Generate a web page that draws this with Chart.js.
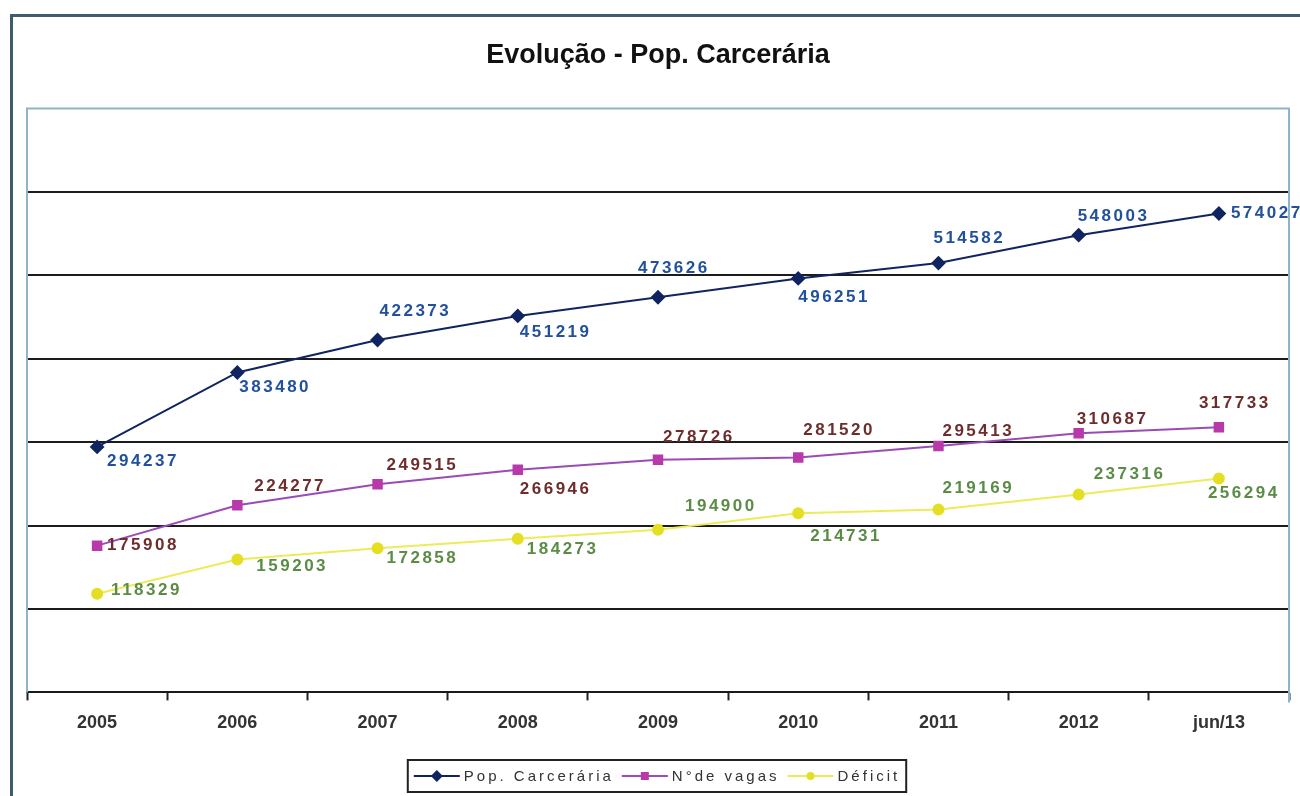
<!DOCTYPE html>
<html>
<head>
<meta charset="utf-8">
<script src="https://cdn.jsdelivr.net/npm/chart.js@4/dist/chart.umd.min.js"></script>
<style>
  html, body { margin: 0; padding: 0; background: #fff; }
</style>
</head>
<body>
<canvas id="chart" width="1300" height="796"></canvas>
<script>
// data
const years = ['2005', '2006', '2007', '2008', '2009', '2010', '2011', '2012', 'jun/13'];
const popCarceraria = [294237, 383480, 422373, 451219, 473626, 496251, 514582, 548003, 574027];
const numVagas = [175908, 224277, 249515, 266946, 278726, 281520, 295413, 310687, 317733];
const deficit = [118329, 159203, 172858, 184273, 194900, 214731, 219169, 237316, 256294];
const yMin = 0, yMax = 700000, yStep = 100000;

// where each value label sits relative to its point: [dx to left edge, dy to middle]
const labelPlacement = [
  [[10,14],[2,15],[2,-29],[2,16],[-20,-29],[0,19],[-5,-25],[-1,-19],[12,0]],
  [[10,0],[17,-19],[9,-19],[2,20],[5,-23],[5,-27],[4,-15],[-2,-14],[-20,-24]],
  [[14,-3],[19,7],[9,10],[9,11],[27,-23],[12,23],[4,-21],[15,-20],[-11,15]]
];
const labelColors = ['#21509e', '#6e2c2c', '#5b8c46'];

const valueLabels = {
  id: 'valueLabels',
  afterDatasetsDraw(chart) {
    const ctx = chart.ctx;
    ctx.save();
    ctx.font = 'bold 17px "Liberation Sans", Arial, sans-serif';
    ctx.letterSpacing = '2.5px';
    ctx.textBaseline = 'middle';
    ctx.textAlign = 'left';
    chart.data.datasets.forEach(function(ds, i) {
      const meta = chart.getDatasetMeta(i);
      meta.data.forEach(function(pt, j) {
        const off = labelPlacement[i][j];
        ctx.fillStyle = labelColors[i];
        ctx.fillText(String(ds.data[j]), pt.x + off[0], pt.y + off[1]);
      });
    });
    ctx.restore();
  }
};

const frame = {
  id: 'frame',
  beforeDraw(chart) {
    const ctx = chart.ctx;
    ctx.save();
    ctx.fillStyle = '#fff';
    ctx.fillRect(0, 0, chart.width, chart.height);
    // outer border of the chart object
    ctx.strokeStyle = '#3e5c6c';
    ctx.lineWidth = 3;
    ctx.strokeRect(11.5, 15.5, chart.width + 20, chart.height + 20);
    ctx.restore();
  },
  afterDraw(chart) {
    const ctx = chart.ctx;
    const a = chart.chartArea;
    ctx.save();
    ctx.strokeStyle = '#8fb3c9';
    ctx.lineWidth = 2;
    ctx.beginPath();
    ctx.moveTo(a.left, a.bottom);
    ctx.lineTo(a.left, a.top);
    ctx.lineTo(a.right, a.top);
    ctx.lineTo(a.right, a.bottom + 10);
    ctx.stroke();
    ctx.restore();
  }
};

// legend drawn by hand: line with marker, then spaced text, all in one box
const boxLegend = {
  id: 'boxLegend',
  afterDraw(chart) {
    const ctx = chart.ctx;
    ctx.save();
    ctx.font = '15px "Liberation Sans", Arial, sans-serif';
    ctx.letterSpacing = '3px';
    ctx.textBaseline = 'middle';
    const sample = 46, gap = 4, itemGap = 8;
    const items = chart.data.datasets.map(function(ds) {
      return { ds: ds, w: sample + gap + ctx.measureText(ds.label).width };
    });
    let total = items.reduce((s, it) => s + it.w, 0) + itemGap * (items.length - 1) + 12;
    let x = 657 - total / 2;
    const top = 760, h = 32, y = top + h / 2;
    ctx.strokeStyle = '#222';
    ctx.lineWidth = 2;
    ctx.strokeRect(x, top, total, h);
    x += 6;
    items.forEach(function(it) {
      const ds = it.ds;
      ctx.strokeStyle = ds.borderColor;
      ctx.lineWidth = 2;
      ctx.beginPath();
      ctx.moveTo(x, y);
      ctx.lineTo(x + sample, y);
      ctx.stroke();
      ctx.fillStyle = ds.pointBackgroundColor;
      ctx.beginPath();
      const cx = x + sample / 2, r = ds.pointRadius - 1;
      if (ds.pointStyle === 'rectRot') {
        ctx.moveTo(cx, y - r - 1); ctx.lineTo(cx + r + 1, y);
        ctx.lineTo(cx, y + r + 1); ctx.lineTo(cx - r - 1, y);
      } else if (ds.pointStyle === 'rect') {
        ctx.rect(cx - r + 1, y - r + 1, 2 * r - 2, 2 * r - 2);
      } else {
        ctx.arc(cx, y, r, 0, Math.PI * 2);
      }
      ctx.closePath();
      ctx.fill();
      ctx.fillStyle = '#333';
      ctx.fillText(ds.label, x + sample + gap, y + 1);
      x += it.w + itemGap;
    });
    ctx.restore();
  }
};

new Chart(document.getElementById('chart'), {
  type: 'line',
  data: {
    labels: years,
    datasets: [
      {
        label: 'Pop. Carcerária',
        data: popCarceraria,
        borderColor: '#102462',
        backgroundColor: '#102462',
        pointBackgroundColor: '#102462',
        pointBorderColor: '#102462',
        pointStyle: 'rectRot',
        pointRadius: 6,
        borderWidth: 2
      },
      {
        label: 'N°de vagas',
        data: numVagas,
        borderColor: '#9a4cb4',
        backgroundColor: '#b83aaa',
        pointBackgroundColor: '#b83aaa',
        pointBorderColor: '#b83aaa',
        pointStyle: 'rect',
        pointRadius: 6,
        borderWidth: 2
      },
      {
        label: 'Déficit',
        data: deficit,
        borderColor: '#ecec5a',
        backgroundColor: '#e4df22',
        pointBackgroundColor: '#e4df22',
        pointBorderColor: '#e4df22',
        pointStyle: 'circle',
        pointRadius: 5,
        borderWidth: 2
      }
    ]
  },
  options: {
    responsive: false,
    animation: false,
    layout: { padding: { left: 27, right: 11, top: 0, bottom: 50 } },
    plugins: {
      legend: { display: false },
      tooltip: { enabled: false },
      title: {
        display: true,
        text: 'Evolução - Pop. Carcerária',
        color: '#111',
        font: { family: '"Liberation Sans", Arial, sans-serif', size: 27, weight: 'bold' },
        padding: { top: 39, bottom: 37 }
      }
    },
    scales: {
      x: {
        offset: true,
        grid: {
          offset: true,
          drawOnChartArea: false,
          drawTicks: true,
          tickLength: 8,
          tickWidth: 2,
          tickColor: '#222'
        },
        border: { display: true, color: '#1a1a1a', width: 2 },
        ticks: {
          color: '#333',
          padding: 12,
          font: { family: '"Liberation Sans", Arial, sans-serif', size: 18, weight: 'bold' }
        }
      },
      y: {
        min: yMin,
        max: yMax,
        ticks: { display: false, stepSize: yStep },
        grid: {
          drawTicks: false,
          lineWidth: 2,
          color: ctx => (ctx.tick && ctx.tick.value === yMax) ? 'rgba(0,0,0,0)' : '#1c1c1c'
        },
        border: { display: false }
      }
    }
  },
  plugins: [frame, valueLabels, boxLegend]
});
</script>
</body>
</html>
